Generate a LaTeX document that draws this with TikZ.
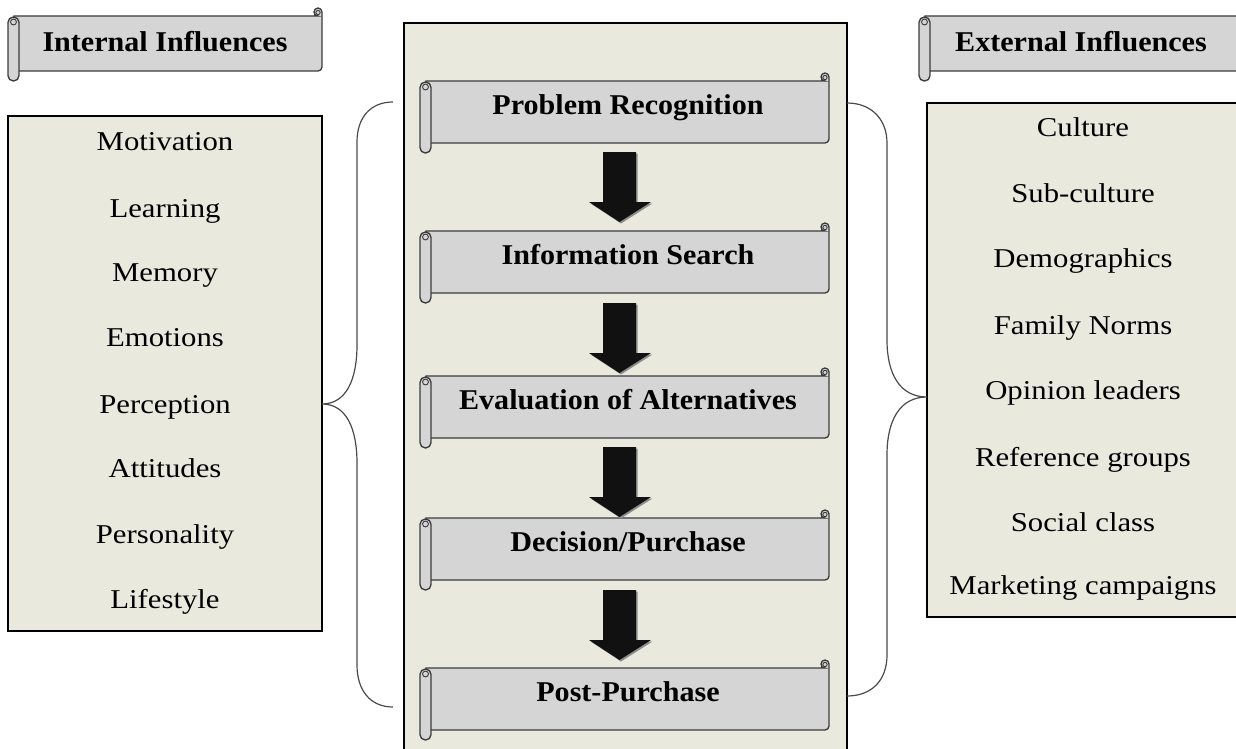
\documentclass[tikz,border=0pt]{standalone}
\usepackage{fontspec}
\setmainfont{Liberation Serif}
\newfontfamily\listfont[FakeStretch=1.13]{Liberation Serif}
\newfontfamily\headfont[FakeStretch=1.05]{Liberation Serif}
\definecolor{boxbg}{HTML}{EAE9DE}
\definecolor{scrollfill}{HTML}{D5D5D5}
\definecolor{scrolledge}{HTML}{3C3C3C}
\definecolor{arrowfill}{HTML}{111111}
\definecolor{bracecol}{HTML}{4A4A4A}
\tikzset{
  listbox/.style={draw=black, line width=1.1pt, fill=boxbg},
  itemtext/.style={anchor=base, font=\listfont\fontsize{20.4}{24}\selectfont, inner sep=0pt},
  headtext/.style={anchor=base, font=\headfont\bfseries\fontsize{21.5}{25}\selectfont, inner sep=0pt},
  scrollline/.style={draw=scrolledge, line width=1pt, fill=scrollfill},
  curlline/.style={draw=scrolledge, line width=0.7pt},
  bigarrow/.style={fill=arrowfill, draw=none},
  arrowshadow/.style={fill=black!45, draw=none},
  bracket/.style={draw=bracecol, line width=0.9pt},
}
% #1 left, #2 right, #3 top, #4 bottom
\newcommand\drawscroll[4]{%
  \path[scrollline] (#1+6,#3) -- (#2-4,#3)
    .. controls (#2-6.2,#3) and (#2-8,#3-1.8) .. (#2-8,#3-4)
    .. controls (#2-8,#3-6.2) and (#2-6.2,#3-8) .. (#2-4,#3-8)
    .. controls (#2-1.8,#3-8) and (#2,#3-6.2) .. (#2,#3-4)
    -- (#2,#4-4) .. controls (#2,#4-1.8) and (#2-1.8,#4) .. (#2-4,#4)
    -- (#1+6,#4) -- cycle;
  \draw[curlline] (#2-4,#3-3.5) circle[radius=1.6pt];
  \draw[curlline] (#2-8,#3-4) -- (#2-8,#3);
  \path[scrollline,rounded corners=4pt] (#1,#3+1) rectangle (#1+11,#4+10);
  \draw[curlline] (#1+5.5,#3+6) circle[radius=2.2pt];
}
% #1 top y
\newcommand\blockarrow[1]{%
  \path[arrowshadow] (604.5,#1+1.5) -- (637.5,#1+1.5) -- (637.5,#1+51.5) -- (652.5,#1+51.5)
     -- (621,#1+71.5) -- (590.5,#1+51.5) -- (604.5,#1+51.5) -- cycle;
  \path[bigarrow] (603,#1) -- (636,#1) -- (636,#1+50) -- (651,#1+50)
     -- (619.5,#1+70) -- (589,#1+50) -- (603,#1+50) -- cycle;
}
\begin{document}
\begin{tikzpicture}[x=0.75pt,y=-0.75pt]
\clip (0,0) rectangle (1236,749);
\fill[white] (0,0) rectangle (1236,749);

% central panel
\draw[listbox] (404,23) rectangle (847,770);

% side boxes
\draw[listbox] (8,116) rectangle (322,631);
\draw[listbox] (927,103) rectangle (1250,617);

% header scrolls
\drawscroll{8}{322}{16}{71}
\node[headtext] (intl) at (165,52) {Internal Influences};
\drawscroll{919}{1246}{16}{71}
\node[headtext] (extl) at (1081,52) {External Influences};

% process scrolls
\drawscroll{420}{829}{81}{143}
\node[headtext] (p1) at (628,114) {Problem Recognition};
\drawscroll{420}{829}{231}{293}
\node[headtext] (p2) at (628,264) {Information Search};
\drawscroll{420}{829}{376}{438}
\node[headtext] (p3) at (628,409) {Evaluation of Alternatives};
\drawscroll{420}{829}{518}{580}
\node[headtext] (p4) at (628,551) {Decision/Purchase};
\drawscroll{420}{829}{668}{730}
\node[headtext] (p5) at (628,701) {Post-Purchase};

% block arrows
\blockarrow{152}
\blockarrow{303}
\blockarrow{447}
\blockarrow{590}

% internal list
\node[itemtext] (i1) at (165,151) {Motivation};
\node[itemtext] (i2) at (165,217) {Learning};
\node[itemtext] (i3) at (165,281) {Memory};
\node[itemtext] (i4) at (165,346) {Emotions};
\node[itemtext] (i5) at (165,413) {Perception};
\node[itemtext] (i6) at (165,477) {Attitudes};
\node[itemtext] (i7) at (165,543) {Personality};
\node[itemtext] (i8) at (165,608) {Lifestyle};

% external list
\node[itemtext] (e1) at (1083,137) {Culture};
\node[itemtext] (e2) at (1083,202) {Sub-culture};
\node[itemtext] (e3) at (1083,267) {Demographics};
\node[itemtext] (e4) at (1083,334) {Family Norms};
\node[itemtext] (e5) at (1083,399) {Opinion leaders};
\node[itemtext] (e6) at (1083,466) {Reference groups};
\node[itemtext] (e7) at (1083,531) {Social class};
\node[itemtext] (e8) at (1083,594) {Marketing campaigns};

% braces
\draw[bracket] (393,102) .. controls (370,102) and (357,118) .. (357,142)
  -- (357,345) .. controls (357,380) and (346,404) .. (322,404)
  .. controls (346,404) and (357,428) .. (357,463)
  -- (357,665) .. controls (357,690) and (370,707) .. (393,707);
\draw[bracket] (847,103) .. controls (872,103) and (887,120) .. (887,143)
  -- (887,340) .. controls (887,374) and (900,397) .. (927,397)
  .. controls (900,397) and (887,420) .. (887,455)
  -- (887,655) .. controls (887,680) and (872,696) .. (847,696);
\end{tikzpicture}
\end{document}
